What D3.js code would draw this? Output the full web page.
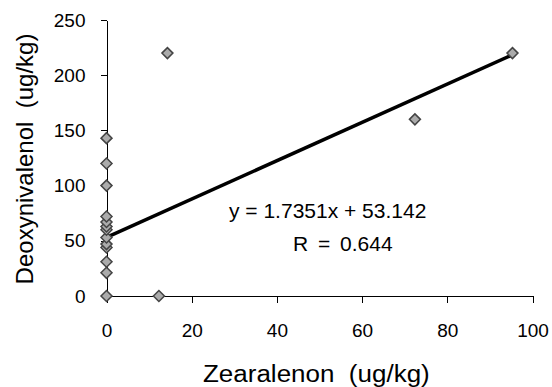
<!DOCTYPE html>
<html>
<head>
<meta charset="utf-8">
<script src="https://cdn.jsdelivr.net/npm/d3@7"></script>
<style>
  body { margin: 0; background: #fff; }
  svg { display: block; font-family: "Liberation Sans", Arial, sans-serif; }
  .axis path, .axis line { stroke: #000; stroke-width: 1; shape-rendering: crispEdges; }
  .axis text { font-size: 19px; fill: #000; }
</style>
</head>
<body>
<script>
// Zearalenon (x) vs Deoxynivalenol (y), ug/kg
var zearalenon = [0, 0, 0, 0, 0, 0, 0, 0, 0, 0, 0, 0, 0, 14.3, 12.3, 72.4, 95.3];
var deoxynivalenol = [0, 21, 31, 44, 47, 53, 60, 63, 67, 72, 100, 120, 143, 220, 0, 160, 220];
var xTicks = [0, 20, 40, 60, 80, 100];
var yTicks = [0, 50, 100, 150, 200, 250];
var slope = 1.7351, intercept = 53.142;
var eqLabel = 'y = 1.7351x + 53.142';
var rLabel = 'R = 0.644';

var width = 552, height = 387;
var margin = {top: 20, right: 19.5, bottom: 91, left: 106.5};

var x = d3.scaleLinear().domain([0, 100]).range([margin.left, width - margin.right]);
var y = d3.scaleLinear().domain([0, 250]).range([height - margin.bottom, margin.top]);

var svg = d3.select('body').append('svg')
    .attr('width', width)
    .attr('height', height);

// axes
svg.append('g')
    .attr('class', 'x axis')
    .attr('transform', 'translate(0,' + y(0) + ')')
    .call(d3.axisBottom(x).tickValues(xTicks).tickSize(7).tickPadding(20).tickSizeOuter(0))
    .selectAll('text').attr('dy', '0.72em');

svg.append('g')
    .attr('class', 'y axis')
    .attr('transform', 'translate(' + x(0) + ',0)')
    .call(d3.axisLeft(y).tickValues(yTicks).tickSize(6).tickPadding(15).tickSizeOuter(0));

// trend line
var xMax = d3.max(zearalenon);
svg.append('line')
    .attr('x1', x(0)).attr('y1', y(intercept))
    .attr('x2', x(xMax)).attr('y2', y(slope * xMax + intercept))
    .attr('stroke', '#000')
    .attr('stroke-width', 3.5);

// points
var pts = zearalenon.map(function(d, i) { return {x: d, y: deoxynivalenol[i]}; });
svg.append('g').selectAll('path')
    .data(pts)
    .enter().append('path')
    .attr('d', 'M0,-5.5L5.5,0L0,5.5L-5.5,0Z')
    .attr('transform', function(d) { return 'translate(' + x(d.x) + ',' + y(d.y) + ')'; })
    .attr('fill', '#ababab')
    .attr('stroke', '#444')
    .attr('stroke-width', 1.5);

// equation text
svg.append('text')
    .attr('x', 229).attr('y', 218)
    .attr('font-size', 21)
    .text(eqLabel);
svg.append('text')
    .attr('x', 293).attr('y', 251)
    .attr('font-size', 21)
    .attr('word-spacing', 4)
    .text(rLabel);

// axis titles (source chart is slightly stretched horizontally)
svg.append('text')
    .attr('transform', 'translate(203,382) scale(1.13,1)')
    .attr('font-size', 23)
    .attr('xml:space', 'preserve')
    .text('Zearalenon  (ug/kg)');

svg.append('text')
    .attr('transform', 'translate(33,159) rotate(-90)')
    .attr('text-anchor', 'middle')
    .attr('font-size', 24)
    .attr('xml:space', 'preserve')
    .text('Deoxynivalenol  (ug/kg)');
</script>
</body>
</html>
